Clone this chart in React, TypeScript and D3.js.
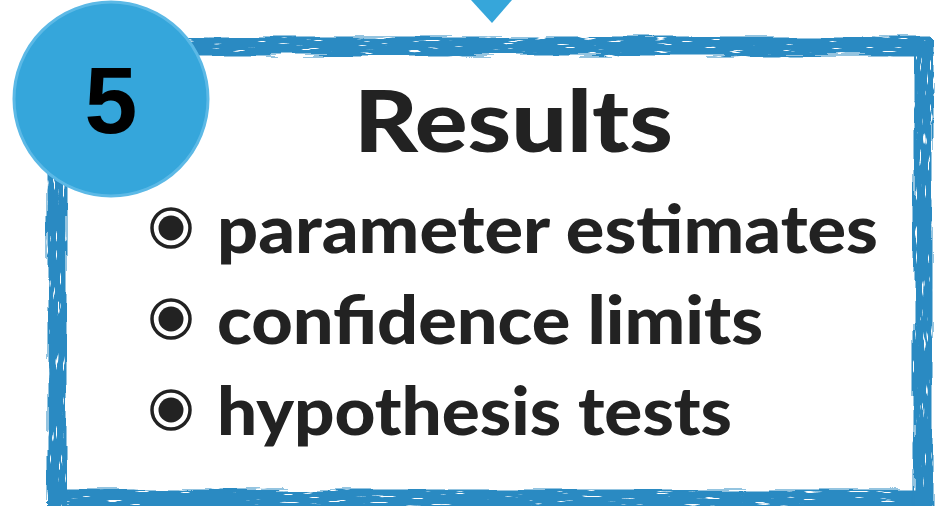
import { useEffect, useRef } from 'react';
import * as d3 from 'd3';

const stepNumber = '5';
const title = 'Results';
const items = ['parameter estimates', 'confidence limits', 'hypothesis tests'];
const itemWidths = [661, 546, 515];

export default function App() {
  const svgRef = useRef<SVGSVGElement>(null);

  useEffect(() => {
    if (!svgRef.current) return;
    const width = 947;
    const height = 506;

    const svg = d3.select(svgRef.current);
    svg.selectAll('*').remove();
    svg.attr('width', width).attr('height', height);

    const defs = svg.append('defs');

    // brush-like roughness: streaky displacement + a few white specks
    const addRough = (id: string, freq: string, holeFreq: string, seed: number) => {
      const f = defs
        .append('filter')
        .attr('id', id)
        .attr('filterUnits', 'userSpaceOnUse')
        .attr('x', 0)
        .attr('y', 0)
        .attr('width', width)
        .attr('height', height);
      f.append('feTurbulence')
        .attr('type', 'fractalNoise')
        .attr('baseFrequency', freq)
        .attr('numOctaves', 3)
        .attr('seed', seed)
        .attr('result', 'n1');
      f.append('feDisplacementMap')
        .attr('in', 'SourceGraphic')
        .attr('in2', 'n1')
        .attr('scale', 9)
        .attr('xChannelSelector', 'R')
        .attr('yChannelSelector', 'G')
        .attr('result', 'disp');
      f.append('feTurbulence')
        .attr('type', 'fractalNoise')
        .attr('baseFrequency', holeFreq)
        .attr('numOctaves', 2)
        .attr('seed', seed + 7)
        .attr('result', 'n2');
      f.append('feColorMatrix')
        .attr('in', 'n2')
        .attr('type', 'matrix')
        .attr('values', '0 0 0 0 0  0 0 0 0 0  0 0 0 0 0  14 0 0 0 -9.6')
        .attr('result', 'holes');
      f.append('feComposite')
        .attr('in', 'disp')
        .attr('in2', 'holes')
        .attr('operator', 'out');
    };
    addRough('roughH', '0.015 0.2', '0.04 0.45', 3);
    addRough('roughV', '0.2 0.015', '0.45 0.04', 11);

    // pointer triangle
    svg
      .append('path')
      .attr('d', d3.line()([[471, 0], [512, 0], [492, 23]]) + 'Z')
      .attr('fill', '#36a6da');

    // rough frame
    const frame = { x0: 57, x1: 923, y0: 46, y1: 499 };
    const edges: [number, number, number, number, string][] = [
      [frame.x0 - 9, frame.y0, frame.x1 + 9, frame.y0, 'roughH'],
      [frame.x0 - 9, frame.y1, frame.x1 + 9, frame.y1, 'roughH'],
      [frame.x0, frame.y0 - 7, frame.x0, frame.y1 + 9, 'roughV'],
      [frame.x1, frame.y0 - 7, frame.x1, frame.y1 + 9, 'roughV'],
    ];
    svg
      .selectAll('line.edge')
      .data(edges)
      .join('line')
      .attr('class', 'edge')
      .attr('x1', (d) => d[0])
      .attr('y1', (d) => d[1])
      .attr('x2', (d) => d[2])
      .attr('y2', (d) => d[3])
      .attr('stroke', '#2a8ac2')
      .attr('stroke-width', 19)
      .attr('filter', (d) => `url(#${d[4]})`);

    // number badge
    svg
      .append('circle')
      .attr('cx', 111)
      .attr('cy', 99)
      .attr('r', 97)
      .attr('fill', '#35a6db')
      .attr('stroke', '#5cb9e6')
      .attr('stroke-width', 3);

    svg
      .append('text')
      .attr('x', 111)
      .attr('y', 133)
      .attr('text-anchor', 'middle')
      .attr('font-family', '"Liberation Sans", Arial, sans-serif')
      .attr('font-weight', 'bold')
      .attr('font-size', 95)
      .attr('fill', '#000')
      .text(stepNumber);

    const font = 'Lato, "Open Sans", sans-serif';

    svg
      .append('text')
      .attr('x', 354)
      .attr('y', 152)
      .attr('font-family', font)
      .attr('font-weight', 900)
      .attr('font-size', 86)
      .attr('fill', '#222')
      .attr('textLength', 319)
      .attr('lengthAdjust', 'spacingAndGlyphs')
      .text(title);

    const y = d3.scalePoint<string>().domain(items).range([228, 410]);

    const rows = svg
      .selectAll('g.row')
      .data(items)
      .join('g')
      .attr('class', 'row')
      .attr('transform', (d) => `translate(0,${y(d)})`);

    rows
      .append('circle')
      .attr('cx', 171)
      .attr('r', 19)
      .attr('fill', 'none')
      .attr('stroke', '#222')
      .attr('stroke-width', 3.5);
    rows.append('circle').attr('cx', 171).attr('r', 12.5).attr('fill', '#222');

    rows
      .append('text')
      .attr('x', 217)
      .attr('y', 25)
      .attr('font-family', font)
      .attr('font-weight', 900)
      .attr('font-size', 67)
      .attr('fill', '#222')
      .attr('textLength', (_, i) => itemWidths[i])
      .attr('lengthAdjust', 'spacingAndGlyphs')
      .text((d) => d);
  }, []);

  return (
    <div style={{ position: 'absolute', left: 0, top: 0, background: '#fff' }}>
      <svg ref={svgRef} style={{ display: 'block' }} />
    </div>
  );
}
